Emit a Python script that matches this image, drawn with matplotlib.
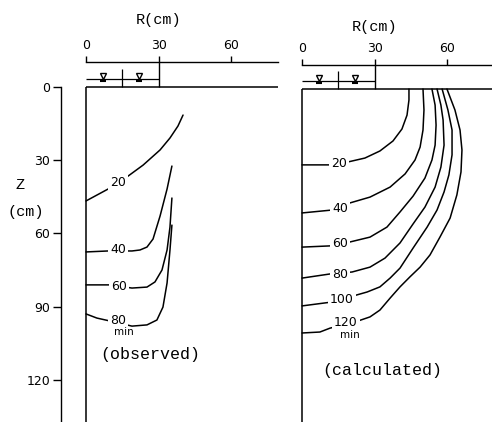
import matplotlib.pyplot as plt

# depth (Z, cm) vs radius (R, cm) of the wetting front
obs_levels = ["20", "40", "60", "80"]
obs_r = [
    [0, 9.9, 17.4, 23.6, 30.6, 34.7, 38.0, 40.1],
    [0, 9.1, 19.0, 22.3, 25.2, 27.7, 30.6, 33.5, 35.5],
    [0, 9.9, 19.0, 25.2, 28.5, 31.4, 33.5, 34.7, 35.5],
    [0, 4.5, 9.9, 19.0, 25.2, 29.3, 31.8, 33.5, 34.7, 35.5],
]
obs_z = [
    [46.7, 41.4, 36.5, 32.0, 25.8, 20.9, 16.0, 11.5],
    [67.6, 67.2, 67.2, 66.8, 65.6, 62.3, 52.9, 41.8, 32.4],
    [81.1, 81.1, 82.4, 82.0, 79.9, 75.0, 66.8, 57.4, 45.5],
    [93.0, 94.7, 95.9, 98.0, 97.5, 95.5, 90.2, 80.3, 66.8, 56.6],
]

calc_levels = ["20", "40", "60", "80", "100", "120"]
calc_r = [
    [0, 12.4, 19.0, 26.0, 32.2, 37.6, 41.3, 43.4, 44.2, 44.2],
    [0, 12.4, 19.8, 28.1, 36.4, 42.6, 46.7, 48.8, 50.0, 50.4, 50.0],
    [0, 11.6, 19.8, 28.1, 35.1, 40.5, 45.9, 50.8, 53.7, 55.0, 55.4, 55.0, 53.7],
    [0, 11.6, 20.7, 28.1, 34.3, 40.5, 45.9, 50.8, 55.0, 57.4, 58.7, 58.3, 57.4, 55.8],
    [0, 12.4, 19.8, 26.9, 32.2, 36.4, 40.5, 45.9, 51.7, 55.8, 58.7, 60.7, 62.0, 62.0, 60.3, 57.9],
    [0, 7.4, 11.6, 21.9, 28.1, 32.2, 36.4, 40.5, 44.6, 48.8, 52.9, 57.0, 61.2, 64.0, 65.7, 66.1, 65.3, 63.2, 59.9],
]
calc_z = [
    [31.1, 31.1, 29.9, 28.3, 25.4, 21.3, 16.4, 10.7, 4.5, 0],
    [50.8, 49.6, 46.7, 44.3, 40.2, 34.8, 29.1, 23.8, 16.8, 8.6, 0],
    [64.8, 64.3, 62.7, 60.7, 56.6, 50.4, 43.9, 36.5, 29.1, 23.0, 14.8, 6.6, 0],
    [77.5, 75.8, 75.0, 73.0, 69.3, 63.1, 55.3, 48.4, 40.2, 32.0, 23.0, 12.7, 6.6, 0],
    [88.9, 87.3, 85.2, 83.2, 81.1, 77.5, 73.4, 65.2, 56.6, 49.6, 42.2, 35.2, 27.0, 16.8, 8.6, 0],
    [100.0, 99.6, 98.0, 95.5, 93.4, 90.6, 85.7, 81.1, 77.0, 73.0, 68.0, 60.7, 52.9, 43.4, 34.0, 25.0, 16.8, 8.6, 0],
]

r_ticks = [0, 30, 60]
z_ticks = [0, 30, 60, 90, 120]

# label spots (R, Z) for each contour
obs_lab_pos = [(13.2, 39.3), (13.2, 66.8), (13.6, 81.6), (13.2, 95.5)]
calc_lab_pos = [(15.3, 30.7), (15.7, 48.8), (15.7, 63.5), (15.7, 76.2), (16.5, 86.1), (18.2, 95.5)]

# layout, in pixels of the 492x422 picture
W, H = 492, 422
PX_R = 2.42  # px per cm along R
PX_Z = 2.44  # px per cm along Z
MONO = "Liberation Mono"

fig = plt.figure(figsize=(W / 100, H / 100), dpi=100)


def make_panel(x_left, x_right, x0, y0):
    # x0, y0: pixel position of R=0, Z=0
    ax = fig.add_axes([x_left / W, 0, (x_right - x_left) / W, 1])
    ax.set_xlim((x_left - x0) / PX_R, (x_right - x0) / PX_R)
    ax.set_ylim((H - y0) / PX_Z, -y0 / PX_Z)
    ax.patch.set_alpha(0)
    for s in ["bottom", "right", "left"]:
        ax.spines[s].set_visible(False)
    return ax


def frame(ax, r_end, z_axis, label_y):
    zmax = ax.get_ylim()[0]
    ax.spines["top"].set_position(("data", z_axis))
    ax.spines["top"].set_bounds(0, r_end)
    ax.spines["top"].set_linewidth(1.0)
    ax.set_xticks(r_ticks)
    ax.tick_params(axis="x", top=True, labeltop=True, bottom=False, labelbottom=False,
                   direction="out", length=4, width=1.0, pad=3, labelsize=9)
    ax.text(30, label_y, "R(cm)", family=MONO, fontsize=11, ha="center", va="center")
    # ground surface and R=0 wall
    ax.hlines(0, 0, r_end, color="k", lw=1.1)
    ax.vlines(0, 0, zmax, color="k", lw=1.1)
    # ponding ring
    ax.vlines(30, z_axis, 0, color="k", lw=1.0)
    ax.vlines(15, -7.4, 0, color="k", lw=0.9)
    ax.hlines(-3.3, 0, 30, color="k", lw=0.9)
    ax.plot([7, 22], [-4.4, -4.4], ls="none", marker="v", ms=5, mfc="white", mec="k", mew=1.0)
    ax.plot([7, 22], [-2.4, -2.4], ls="none", marker="_", ms=4, mec="k", mew=1.5)


def contours(ax, rs, zs, levels, lab_pos):
    for r, z, lev, (lr, lz) in zip(rs, zs, levels, lab_pos):
        ax.plot(r, z, color="k", lw=1.1, solid_capstyle="round")
        ax.text(lr, lz, lev, fontsize=9, ha="center", va="center",
                bbox=dict(boxstyle="square,pad=0.15", fc="white", ec="none"))


# observed
ax1 = make_panel(0, 280, 86, 87)
frame(ax1, (278 - 86) / PX_R, -10.2, -27.5)
ax1.spines["left"].set_visible(True)
ax1.spines["left"].set_position(("data", -10.3))
ax1.spines["left"].set_bounds(0, ax1.get_ylim()[0])
ax1.spines["left"].set_linewidth(1.0)
ax1.set_yticks(z_ticks)
ax1.tick_params(axis="y", direction="out", length=6, width=1.0, pad=2, labelsize=9)
ax1.text(-27.3, 40.2, "Z", family=MONO, fontsize=11, ha="center", va="center")
ax1.text(-24.8, 51.2, "(cm)", family=MONO, fontsize=11, ha="center", va="center")
contours(ax1, obs_r, obs_z, obs_levels, obs_lab_pos)
ax1.text(15.7, 100.4, "min", fontsize=7.5, ha="center", va="center")
ax1.text(26.4, 109.8, "(observed)", family=MONO, fontsize=12, ha="center", va="center")

# calculated
ax2 = make_panel(280, 492, 302, 89)
frame(ax2, ax2.get_xlim()[1], -9.8, -25.4)
ax2.set_yticks([])
contours(ax2, calc_r, calc_z, calc_levels, calc_lab_pos)
ax2.text(19.8, 100.8, "min", fontsize=7.5, ha="center", va="center")
ax2.text(33.1, 115.2, "(calculated)", family=MONO, fontsize=12, ha="center", va="center")

fig.savefig("out.png", dpi=100)
